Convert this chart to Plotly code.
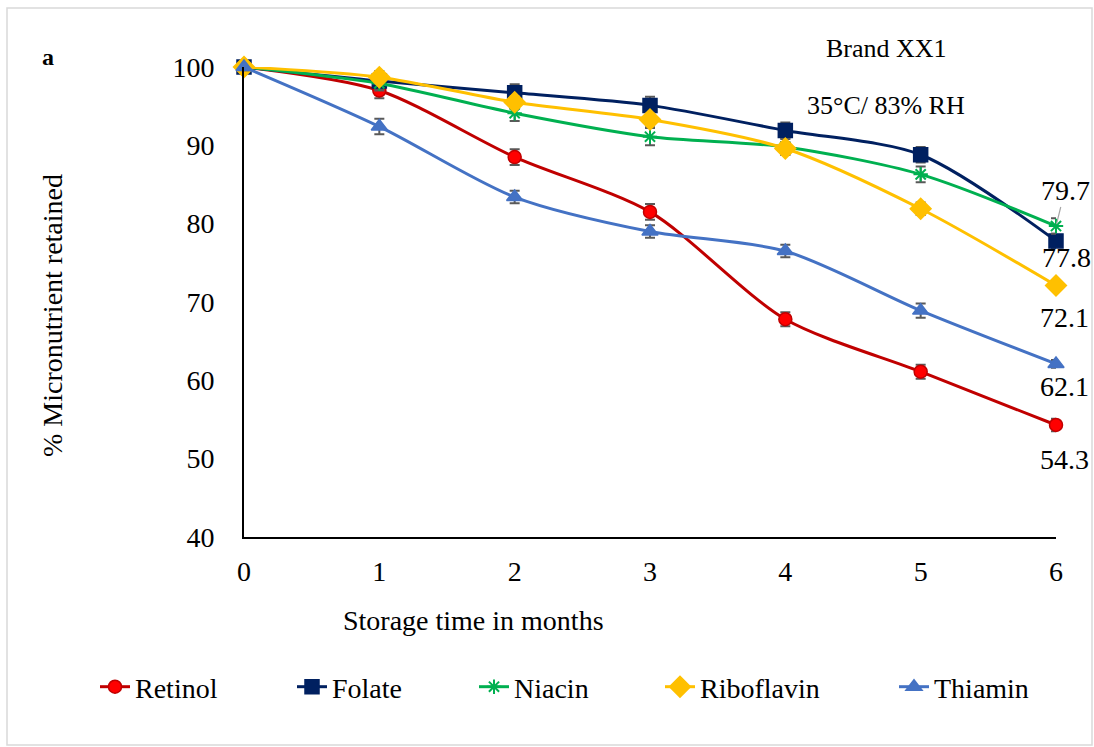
import plotly.graph_objects as go

months = [0, 1, 2, 3, 4, 5, 6]
series_names = ["Retinol", "Folate", "Niacin", "Riboflavin", "Thiamin"]
retinol = [100, 97.0, 88.5, 81.5, 67.8, 61.1, 54.3]
folate = [100, 98.2, 96.7, 95.1, 91.9, 88.8, 77.8]
niacin = [100, 97.9, 94.1, 91.1, 89.8, 86.3, 79.7]
riboflavin = [100, 98.7, 95.5, 93.3, 89.6, 81.9, 72.1]
thiamin = [100, 92.4, 83.4, 79.0, 76.5, 68.9, 62.1]
retinol_err = [0.4, 1.0, 1.0, 1.0, 0.9, 0.9, 0.8]
folate_err = [0.4, 1.0, 1.1, 1.1, 1.0, 1.0, 0.9]
niacin_err = [0.4, 0.9, 1.0, 1.1, 1.0, 1.0, 1.0]
riboflavin_err = [0.4, 0.8, 0.8, 0.8, 0.8, 0.8, 0.6]
thiamin_err = [0.4, 1.0, 0.8, 0.8, 0.8, 0.9, 0.5]
end_labels = ["54.3", "77.8", "79.7", "72.1", "62.1"]

FONT = "Liberation Serif"

styles = [
    dict(color="#C00000", fill="#FF0000", symbol="circle", size=13),
    dict(color="#002060", fill="#002060", symbol="square", size=14),
    dict(color="#00B050", fill="#00B050", symbol="asterisk-open", size=12),
    dict(color="#FFC000", fill="#FFC000", symbol="diamond", size=16),
    dict(color="#4472C4", fill="#4472C4", symbol="triangle-up", size=14),
]
values = [retinol, folate, niacin, riboflavin, thiamin]
errors = [retinol_err, folate_err, niacin_err, riboflavin_err, thiamin_err]
legend_ids = ["legend", "legend2", "legend3", "legend4", "legend5"]

fig = go.Figure()
for name, vals, err, st, lg in zip(series_names, values, errors, styles, legend_ids):
    fig.add_trace(go.Scatter(
        x=months, y=vals, name=name, mode="lines+markers", legend=lg,
        line=dict(color=st["color"], width=3, shape="spline", smoothing=0.8),
        marker=dict(symbol=st["symbol"], size=st["size"], color=st["fill"],
                    line=dict(color=st["color"], width=1.5 if st["symbol"] != "asterisk-open" else 2)),
        error_y=dict(type="data", array=err, visible=True, color="#595959",
                     thickness=2, width=5),
        cliponaxis=False,
    ))

W, H = 1094, 747
L, R, T, B = 244, 38, 67, 210
pw, ph = W - L - R, H - T - B

def px(x):
    return (x - L) / pw

def py(y):
    return (H - B - y) / ph

def txt(text, x, y, size=28, angle=0):
    return dict(text=text, x=px(x), y=py(y), xref="paper", yref="paper",
                xanchor="center", yanchor="middle", showarrow=False, textangle=angle,
                font=dict(size=size, family=FONT, color="black"))

annotations = [
    txt("<b>a</b>", 48, 57, 24),
    txt("Brand XX1", 886, 48, 26),
    txt("35°C/ 83% RH", 886, 105, 26),
    txt("Storage time in months", 473, 620, 28),
    txt("% Micronutrient retained", 52, 316, 28, -90),
]

label_map = dict(zip(["Retinol", "Folate", "Niacin", "Riboflavin", "Thiamin"], end_labels))
shifts = {"Retinol": (8, -35), "Folate": (10, -17), "Thiamin": (8, -23), "Riboflavin": (8, -32)}
for name, vals in zip(series_names, values):
    if name == "Niacin":
        annotations.append(dict(text=label_map[name], x=months[-1], y=vals[-1], xref="x", yref="y",
                                showarrow=True, arrowhead=0, arrowwidth=1.2, arrowcolor="#A6A6A6",
                                ax=9, ay=-36, standoff=2,
                                font=dict(size=28, family=FONT, color="black")))
    else:
        xs, ys = shifts[name]
        annotations.append(dict(text=label_map[name], x=months[-1], y=vals[-1], xref="x", yref="y",
                                showarrow=False, xshift=xs, yshift=ys,
                                font=dict(size=28, family=FONT, color="black")))

text_starts = [136, 333, 515, 701, 935]
legends = {}
for lg, ts in zip(legend_ids, text_starts):
    legends[lg] = dict(orientation="h", x=px(ts - 41), y=py(687), xanchor="left", yanchor="middle",
                       font=dict(size=28, family=FONT, color="black"),
                       bgcolor="rgba(0,0,0,0)")

fig.update_layout(
    width=W, height=H,
    margin=dict(l=L, r=R, t=T, b=B, pad=0),
    paper_bgcolor="white", plot_bgcolor="white",
    font=dict(family=FONT, size=28, color="black"),
    showlegend=True,
    annotations=annotations,
    shapes=[dict(type="rect", xref="paper", yref="paper",
                 x0=px(7), x1=px(1092), y0=py(745), y1=py(8),
                 line=dict(color="#D9D9D9", width=1.5), layer="below")],
    **legends,
)
fig.update_xaxes(range=[0, 6], tickvals=months, ticktext=[str(m) for m in months],
                 showgrid=False, zeroline=False, showline=True, linecolor="black", linewidth=2,
                 ticks="outside", ticklen=8, tickcolor="rgba(0,0,0,0)",
                 tickfont=dict(size=28, family=FONT, color="black"))
fig.update_yaxes(range=[40, 100], dtick=10, showgrid=False, zeroline=False,
                 showline=True, linecolor="black", linewidth=2,
                 ticks="outside", ticklen=22, tickcolor="rgba(0,0,0,0)",
                 tickfont=dict(size=28, family=FONT, color="black"))

fig.write_html("out.html")
